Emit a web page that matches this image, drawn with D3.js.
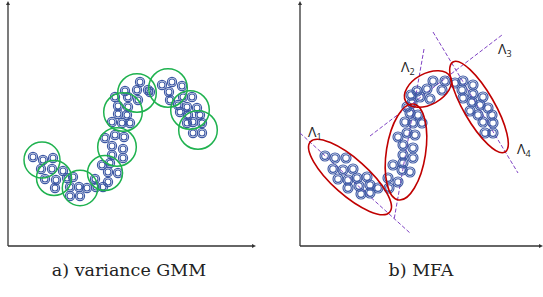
<!DOCTYPE html>
<html>
<head>
<script src="https://d3js.org/d3.v7.min.js"></script>
<style>
body {margin:0; background:white;}
</style>
</head>
<body>
<svg width="543" height="297"></svg>
<script>
// panel a) points, data units measured from the axes origin (y up)
var gmmPoints = [
  [25,89],[35,86],[45,88],[33,77],[44,77],[55,75],[37,67],[48,66],[59,68],[47,58],[65,69],
  [62,59],[71,59],[79,58],[62,50],[72,50],[87,67],[88,59],[95,59],
  [94,81],[102,83],[100,74],[110,73],[100,64],
  [97,108],[107,111],[116,109],[104,100],[115,97],[104,91],[115,88],
  [107,149],[110,140],[120,139],[110,132],[119,131],[104,124],[114,123],[122,123],
  [117,155],[129,156],[132,164],[140,156],[130,146],[120,149],[142,154],
  [154,161],[164,164],[174,160],[161,154],[162,146],
  [175,149],[184,149],[170,141],[179,139],[189,138],[172,134],[180,131],[192,131],
  [185,124],[179,123],[194,123],[185,113],[194,113]
];
// green components: centre x, centre y, radius
var gmmComps = [
  [34,86,18],[46,68,17.5],[72,58,17.7],[97,73,17.5],[109,99,19.3],
  [115,134,19.3],[129,153,19.3],[160,158,19.3],[182,136,19.3],[190,116,19.3]
];

// panel b) points
var mfaPoints = [
  [25,90],[35,88],[46,88],[33,77],[43,76],[53,77],[38,67],[48,66],[57,68],[67,69],
  [48,58],[59,60],[70,61],[78,58],[61,52],[70,53],[88,68],[89,58],
  [107,139],[110,133],[118,131],[105,124],[113,123],[122,123],[107,113],[115,111],
  [98,109],[103,101],[113,98],[103,91],[113,88],[93,81],[103,83],[102,76],[110,74],[98,64],
  [117,155],[127,157],[133,165],[145,165],[142,156],[130,147],[120,149],[111,151],[112,143],
  [155,163],[163,165],[173,161],[162,156],[173,152],[163,148],[183,149],[172,144],
  [180,141],[170,135],[188,138],[178,131],[192,131],[183,124],[193,123],[185,113],[193,113]
];
// factor ellipses: centre x, centre y, semi-major, semi-minor, angle (deg, screen)
var mfaEllipses = [
  [50,69,53,18,41.6],
  [106,94,48.5,19.6,98.9],
  [128,157,25.5,15.5,-28.8],
  [179,139,52,15.5,60]
];
// loading directions: x1,y1,x2,y2
var mfaLines = [
  [0,113,110,13],
  [124,197,94,26],
  [70,110,202,211],
  [133,214,218,73]
];
var lambdaLabels = ["1","2","3","4"];
var lambdaPos = [[8,109],[101,174],[198,192],[217,92]];
var captions = ["a) variance GMM", "b) MFA"];

var svg = d3.select("svg");
var blue = "#3d58a4";

function panel(ox, xEnd) {
  var x = d3.scaleLinear().domain([0, 250]).range([ox, ox + 250]);
  var y = d3.scaleLinear().domain([0, 244]).range([246, 2]);
  var g = svg.append("g");
  g.append("line").attr("x1", ox).attr("y1", 246).attr("x2", ox).attr("y2", 4)
    .attr("stroke", "#333").attr("stroke-width", 1.3);
  g.append("line").attr("x1", ox).attr("y1", 246).attr("x2", xEnd - 2).attr("y2", 246)
    .attr("stroke", "#333").attr("stroke-width", 1.3);
  g.append("path").attr("d", "M" + (ox - 2) + ",5L" + ox + ",1L" + (ox + 2) + ",5Z").attr("fill", "#333");
  g.append("path").attr("d", "M" + (xEnd - 4) + ",244L" + xEnd + ",246L" + (xEnd - 4) + ",248Z").attr("fill", "#333");
  return {x: x, y: y, g: g};
}

function rings(p, data, r1, r2) {
  [r1, r2].forEach(function(r) {
    p.g.selectAll(null).data(data).enter().append("circle")
      .attr("cx", function(d) { return p.x(d[0]); })
      .attr("cy", function(d) { return p.y(d[1]); })
      .attr("r", r)
      .attr("fill", "none")
      .attr("stroke", blue)
      .attr("stroke-width", 1.15);
  });
}

// a) variance GMM
var pa = panel(8, 256);
rings(pa, gmmPoints, 4.6, 3.0);
pa.g.selectAll(null).data(gmmComps).enter().append("circle")
  .attr("cx", function(d) { return pa.x(d[0]); })
  .attr("cy", function(d) { return pa.y(d[1]); })
  .attr("r", function(d) { return d[2]; })
  .attr("fill", "none")
  .attr("stroke", "#1fb24f")
  .attr("stroke-width", 1.5);

// b) MFA
var pb = panel(300, 543);
pb.g.selectAll(null).data(mfaLines).enter().append("line")
  .attr("x1", function(d) { return pb.x(d[0]); })
  .attr("y1", function(d) { return pb.y(d[1]); })
  .attr("x2", function(d) { return pb.x(d[2]); })
  .attr("y2", function(d) { return pb.y(d[3]); })
  .attr("stroke", "#8044c4")
  .attr("stroke-width", 1)
  .attr("stroke-dasharray", "4,2");
rings(pb, mfaPoints, 5.0, 3.3);
pb.g.selectAll(null).data(mfaEllipses).enter().append("ellipse")
  .attr("transform", function(d) {
    return "translate(" + pb.x(d[0]) + "," + pb.y(d[1]) + ") rotate(" + d[4] + ")";
  })
  .attr("rx", function(d) { return d[2]; })
  .attr("ry", function(d) { return d[3]; })
  .attr("fill", "none")
  .attr("stroke", "#c00000")
  .attr("stroke-width", 1.6);

var lab = pb.g.selectAll(null).data(lambdaLabels).enter().append("text")
  .attr("x", function(d, i) { return pb.x(lambdaPos[i][0]); })
  .attr("y", function(d, i) { return pb.y(lambdaPos[i][1]); })
  .style("font", "14px 'Open Sans', sans-serif")
  .attr("fill", "#222");
lab.append("tspan").text("\u039b");
lab.append("tspan").attr("dy", 3).style("font-size", "9px").text(function(d) { return d; });

svg.selectAll(".cap").data(captions).enter().append("text")
  .attr("x", function(d, i) { return i == 0 ? 129 : 421; })
  .attr("y", 276)
  .attr("text-anchor", "middle")
  .style("font", "17.5px 'DejaVu Serif', serif")
  .attr("fill", "#222")
  .text(function(d) { return d; });
</script>
</body>
</html>
